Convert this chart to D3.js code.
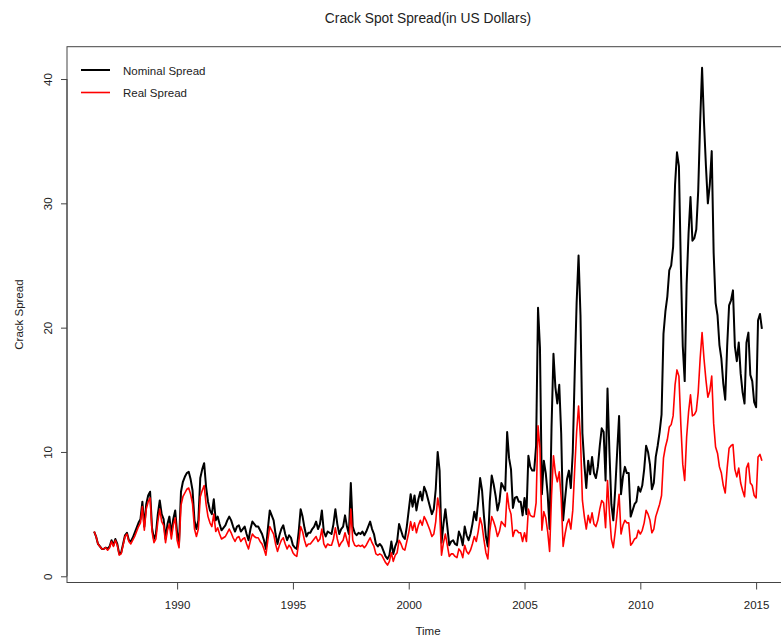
<!DOCTYPE html>
<html>
<head>
<meta charset="utf-8">
<script src="https://cdn.jsdelivr.net/npm/d3@7"></script>
<style>
  html, body { margin: 0; padding: 0; background: #ffffff; }
  svg { display: block; font-family: "Liberation Sans", Arial, Helvetica, sans-serif; }
</style>
</head>
<body>
<svg id="chart" width="781" height="639"></svg>
<script>
// Monthly series, first observation June 1986
const startYear = 1986;
const startMonth = 6;

// Nominal 3-2-1 crack spread, US$ per barrel
const nominal = [
  // 1986 (Jun-Dec)
  3.6, 3.2, 2.6, 2.4, 2.2, 2.2, 2.3,
  // 1987
  2.2, 2.4, 2.9, 2.5, 3.0, 2.6, 1.8, 1.9, 2.6, 3.3, 3.5, 2.9,
  // 1988
  2.8, 3.1, 3.5, 3.9, 4.3, 4.6, 6.0, 4.0, 5.8, 6.5, 6.8, 3.9,
  // 1989
  3.0, 3.4, 5.0, 6.1, 5.0, 4.6, 3.0, 4.2, 4.8, 3.4, 4.6, 5.3,
  // 1990
  3.5, 2.7, 6.8, 7.6, 8.0, 8.3, 8.4, 7.8, 6.9, 4.5, 3.8, 4.5,
  // 1991
  7.9, 8.6, 9.1, 7.2, 6.0, 5.3, 5.0, 6.2, 4.5, 4.8, 4.2, 3.7,
  // 1992
  3.9, 4.1, 4.5, 4.8, 4.5, 4.0, 3.6, 4.0, 4.1, 3.6, 3.8, 4.0,
  // 1993
  3.4, 2.9, 3.8, 4.4, 4.2, 4.0, 4.0, 3.7, 3.4, 2.9, 2.2, 3.8,
  // 1994
  5.3, 4.9, 4.5, 3.4, 2.6, 3.3, 3.8, 4.1, 3.4, 2.9, 3.3, 3.1,
  // 1995
  2.5, 2.3, 2.2, 3.6, 5.4, 4.8, 3.9, 3.2, 3.5, 3.5, 3.8, 4.0,
  // 1996
  4.4, 3.8, 4.2, 5.3, 3.6, 3.2, 3.6, 3.5, 3.4, 4.2, 5.4, 4.2,
  // 1997
  3.4, 3.8, 4.0, 4.9, 4.0, 3.4, 7.5, 4.0, 3.5, 3.3, 3.5, 3.4,
  // 1998
  3.6, 3.3, 3.6, 4.0, 4.4, 3.8, 3.4, 2.6, 2.4, 2.6, 2.4, 2.0,
  // 1999
  1.6, 1.4, 1.7, 2.8, 1.8, 2.4, 2.8, 4.2, 3.7, 3.2, 3.0, 4.0,
  // 2000
  5.3, 6.6, 5.6, 6.5, 5.3, 6.2, 6.8, 6.1, 7.2, 6.8, 6.2, 5.6,
  // 2001
  5.0, 5.4, 7.0, 10.0, 8.5, 2.7, 4.2, 5.4, 4.0, 2.5, 2.8, 2.9,
  // 2002
  2.6, 2.5, 3.6, 3.2, 2.5, 4.0, 3.3, 2.9, 3.4, 4.2, 5.2, 4.5,
  // 2003
  6.0, 7.9, 6.9, 4.8, 3.2, 2.4, 6.0, 8.1, 7.4, 6.5, 5.3, 6.0,
  // 2004
  7.5, 7.2, 6.9, 11.6, 9.5, 8.6, 5.5, 6.3, 6.4, 6.0, 6.0, 4.9,
  // 2005
  6.3, 5.0, 9.7, 8.8, 8.5, 8.5, 10.5, 21.6, 18.4, 6.6, 9.3, 8.3,
  // 2006
  6.6, 3.8, 12.0, 17.9, 15.2, 13.9, 15.4, 11.5, 4.5, 6.2, 7.8, 8.5,
  // 2007
  7.1, 10.0, 16.3, 22.0, 25.8, 21.0, 11.5, 9.0, 7.1, 9.3, 8.2, 9.6,
  // 2008
  8.3, 7.9, 8.8, 10.5, 11.9, 11.6, 7.7, 15.1, 10.0, 5.8, 4.5, 7.0,
  // 2009
  10.0, 12.9, 6.6, 8.0, 8.8, 8.3, 8.3, 4.8, 5.3, 5.8, 6.0, 7.2,
  // 2010
  6.8, 7.3, 8.6, 10.5, 10.0, 9.0, 7.0, 7.5, 9.6, 10.5, 11.6, 13.0,
  // 2011
  19.5, 21.3, 22.5, 24.6, 25.0, 26.5, 31.5, 34.1, 33.0, 25.0, 18.5, 15.7,
  // 2012
  23.5, 27.6, 30.5, 27.0, 27.2, 27.9, 31.0, 36.5, 40.9, 36.5, 33.0, 30.0,
  // 2013
  31.5, 34.2, 26.0, 22.0, 21.0, 18.6, 17.5, 15.5, 14.2, 18.5, 21.8, 22.2,
  // 2014
  23.0, 18.5, 17.3, 18.8, 16.3, 14.8, 13.9, 18.8, 19.6, 16.2, 15.7, 14.0,
  // 2015 (Jan-Apr)
  13.6, 20.6, 21.1, 19.9
];

// Inflation-adjusted crack spread, 1986 dollars
const real = [
  // 1986 (Jun-Dec)
  3.6, 3.2, 2.6, 2.4, 2.2, 2.2, 2.3,
  // 1987
  2.1, 2.3, 2.8, 2.4, 2.9, 2.5, 1.7, 1.8, 2.5, 3.2, 3.4, 2.8,
  // 1988
  2.6, 2.9, 3.2, 3.6, 4.0, 4.3, 5.6, 3.7, 5.4, 6.0, 6.3, 3.6,
  // 1989
  2.7, 3.0, 4.4, 5.4, 4.4, 4.1, 2.7, 3.7, 4.2, 3.0, 4.1, 4.7,
  // 1990
  2.9, 2.3, 5.7, 6.4, 6.7, 7.0, 7.1, 6.6, 5.8, 3.8, 3.2, 3.8,
  // 1991
  6.4, 6.9, 7.3, 5.8, 4.8, 4.3, 4.0, 5.0, 3.6, 3.9, 3.4, 3.0,
  // 1992
  3.1, 3.2, 3.5, 3.8, 3.5, 3.1, 2.8, 3.1, 3.2, 2.8, 3.0, 3.1,
  // 1993
  2.6, 2.2, 2.9, 3.4, 3.2, 3.1, 3.1, 2.8, 2.6, 2.2, 1.7, 2.9,
  // 1994
  4.0, 3.7, 3.4, 2.6, 2.0, 2.5, 2.9, 3.1, 2.6, 2.2, 2.5, 2.3,
  // 1995
  1.9, 1.7, 1.6, 2.7, 4.0, 3.6, 2.9, 2.4, 2.6, 2.6, 2.8, 3.0,
  // 1996
  3.2, 2.8, 3.0, 3.8, 2.6, 2.3, 2.6, 2.5, 2.5, 3.0, 3.9, 3.0,
  // 1997
  2.4, 2.7, 2.9, 3.5, 2.9, 2.4, 5.4, 2.9, 2.5, 2.4, 2.5, 2.4,
  // 1998
  2.5, 2.3, 2.5, 2.8, 3.1, 2.7, 2.4, 1.8, 1.7, 1.8, 1.7, 1.4,
  // 1999
  1.1, 0.9, 1.2, 1.9, 1.2, 1.7, 1.9, 2.9, 2.6, 2.2, 2.1, 2.8,
  // 2000
  3.5, 4.4, 3.7, 4.3, 3.5, 4.1, 4.5, 4.1, 4.8, 4.5, 4.1, 3.7,
  // 2001
  3.2, 3.4, 4.4, 6.3, 5.4, 1.7, 2.7, 3.4, 2.5, 1.6, 1.8, 1.8,
  // 2002
  1.6, 1.5, 2.2, 2.0, 1.5, 2.5, 2.0, 1.8, 2.1, 2.6, 3.2, 2.8,
  // 2003
  3.6, 4.7, 4.1, 2.9, 1.9, 1.4, 3.6, 4.8, 4.4, 3.9, 3.2, 3.6,
  // 2004
  4.4, 4.2, 4.0, 6.7, 5.5, 5.0, 3.2, 3.7, 3.7, 3.5, 3.5, 2.8,
  // 2005
  3.5, 2.8, 5.4, 4.9, 4.8, 4.8, 5.9, 12.1, 10.3, 3.7, 5.2, 4.7,
  // 2006
  3.6, 2.0, 6.5, 9.7, 8.3, 7.6, 8.4, 6.3, 2.4, 3.4, 4.2, 4.6,
  // 2007
  3.8, 5.3, 8.6, 11.6, 13.7, 11.1, 6.1, 4.8, 3.8, 4.9, 4.3, 5.1,
  // 2008
  4.2, 4.0, 4.5, 5.4, 6.1, 5.9, 3.9, 7.7, 5.1, 3.0, 2.3, 3.6,
  // 2009
  5.1, 6.6, 3.4, 4.1, 4.5, 4.3, 4.3, 2.5, 2.7, 3.0, 3.1, 3.7,
  // 2010
  3.4, 3.7, 4.3, 5.3, 5.0, 4.5, 3.5, 3.8, 4.8, 5.3, 5.8, 6.5,
  // 2011
  9.5, 10.4, 11.0, 12.0, 12.2, 12.9, 15.4, 16.6, 16.1, 12.2, 9.0, 7.7,
  // 2012
  11.2, 13.2, 14.6, 12.9, 13.0, 13.3, 14.8, 17.5, 19.6, 17.5, 15.8, 14.4,
  // 2013
  14.9, 16.1, 12.3, 10.4, 9.9, 8.8, 8.3, 7.3, 6.7, 8.7, 10.3, 10.5,
  // 2014
  10.6, 8.6, 8.0, 8.7, 7.5, 6.9, 6.4, 8.7, 9.1, 7.5, 7.3, 6.5,
  // 2015 (Jan-Apr)
  6.3, 9.6, 9.8, 9.3
];

const xTicks = [1990, 1995, 2000, 2005, 2010, 2015];
const yTicks = [0, 10, 20, 30, 40];
const seriesNames = ["Nominal Spread", "Real Spread"];
const seriesColors = ["#000000", "#ff0000"];
const seriesWidths = [2, 1.6];

const titleText = "Crack Spot Spread(in US Dollars)";
const xLabel = "Time";
const yLabel = "Crack Spread";

// axis limits (data range plus a small margin on every side)
const xLimits = [1985.245, 2016.42];
const yLimits = [-0.5, 42.6];

// plot box in pixels
const box = { left: 67, right: 789, top: 46.7, bottom: 582.5 };

const W = 781, H = 639;
const svg = d3.select("#chart");
svg.append("rect").attr("width", W).attr("height", H).attr("fill", "#ffffff");

const x = d3.scaleLinear().domain(xLimits).range([box.left, box.right]);
const y = d3.scaleLinear().domain(yLimits).range([box.bottom, box.top]);

const timeOf = i => startYear + (startMonth - 1 + i) / 12;

const textColor = "#222222";
const axisColor = "#444444";
const fontSize = 11.5;

// title
svg.append("text")
  .attr("x", (box.left + box.right) / 2)
  .attr("y", 23)
  .attr("text-anchor", "middle")
  .attr("font-size", 13.8)
  .attr("fill", textColor)
  .text(titleText);

// x axis
const xAxis = svg.append("g")
  .attr("transform", `translate(0,${box.bottom})`)
  .call(d3.axisBottom(x).tickValues(xTicks).tickFormat(d3.format("d")).tickSize(7).tickSizeOuter(0));
xAxis.select(".domain").attr("d", `M${x(xTicks[0])},0H${x(xTicks[xTicks.length - 1])}`).attr("stroke", axisColor);
xAxis.selectAll(".tick line").attr("stroke", axisColor);
xAxis.selectAll(".tick text")
  .attr("y", 26).attr("dy", 0)
  .attr("font-size", fontSize)
  .attr("font-family", "Liberation Sans, Arial, sans-serif")
  .attr("fill", textColor);

// y axis with labels parallel to the axis
const yAxis = svg.append("g")
  .attr("transform", `translate(${box.left},0)`)
  .call(d3.axisLeft(y).tickValues(yTicks).tickFormat(d3.format("d")).tickSize(6).tickSizeOuter(0));
yAxis.select(".domain").attr("d", `M0,${y(yTicks[0])}V${y(yTicks[yTicks.length - 1])}`).attr("stroke", axisColor);
yAxis.selectAll(".tick line").attr("stroke", axisColor);
yAxis.selectAll(".tick text")
  .attr("transform", "rotate(-90)")
  .attr("x", 0).attr("y", -15).attr("dy", 0)
  .attr("text-anchor", "middle")
  .attr("font-size", fontSize)
  .attr("font-family", "Liberation Sans, Arial, sans-serif")
  .attr("fill", textColor);

// axis titles
svg.append("text")
  .attr("x", (box.left + box.right) / 2)
  .attr("y", 635)
  .attr("text-anchor", "middle")
  .attr("font-size", fontSize)
  .attr("fill", textColor)
  .text(xLabel);

svg.append("text")
  .attr("transform", `translate(23,${(box.top + box.bottom) / 2}) rotate(-90)`)
  .attr("text-anchor", "middle")
  .attr("font-size", fontSize)
  .attr("fill", textColor)
  .text(yLabel);

// plot frame
svg.append("rect")
  .attr("x", box.left).attr("y", box.top)
  .attr("width", box.right - box.left).attr("height", box.bottom - box.top)
  .attr("fill", "none")
  .attr("stroke", axisColor)
  .attr("stroke-width", 1);

// series lines
const line = d3.line()
  .x((d, i) => x(timeOf(i)))
  .y(d => y(d));

[nominal, real].forEach((values, k) => {
  svg.append("path")
    .datum(values)
    .attr("d", line)
    .attr("fill", "none")
    .attr("stroke", seriesColors[k])
    .attr("stroke-width", seriesWidths[k])
    .attr("stroke-linejoin", "round");
});

// legend (no frame)
const legend = svg.append("g");
seriesNames.forEach((name, k) => {
  const ly = 70 + k * 22.5;
  legend.append("line")
    .attr("x1", 81).attr("x2", 110)
    .attr("y1", ly).attr("y2", ly)
    .attr("stroke", seriesColors[k])
    .attr("stroke-width", seriesWidths[k]);
  legend.append("text")
    .attr("x", 123).attr("y", ly + 4.5)
    .attr("font-size", fontSize)
    .attr("fill", textColor)
    .text(name);
});
</script>
</body>
</html>
